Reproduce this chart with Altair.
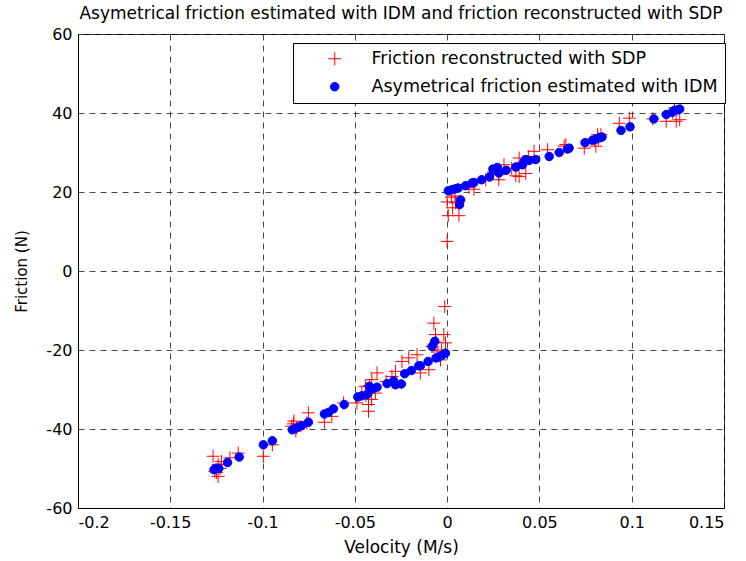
import altair as alt
import pandas as pd

S1 = "Friction reconstructed with SDP"
S2 = "Asymetrical friction estimated with IDM"

# Friction reconstructed with SDP (red crosses)
sdp_v = [-0.1268, -0.1241, -0.1259, -0.1241, -0.1223, -0.1177, -0.1132, -0.1250, -0.1230,
         -0.0996, -0.0947, -0.0833, -0.0815, -0.0842, -0.0820, -0.0830, -0.0752, -0.0761,
         -0.0665, -0.0625, -0.0561, -0.0489, -0.0426, -0.0426, -0.0380, -0.0408, -0.0443,
         -0.0462, -0.0389, -0.0440, -0.0410, -0.0420, -0.0330, -0.0280, -0.0299, -0.0245,
         -0.0208, -0.0163, -0.0145, -0.0099, -0.0082, -0.0072, -0.0063, -0.0060, -0.0050,
         -0.0036, -0.0030, -0.0018, -0.0009, -0.0013,
         0.0000, 0.0000, 0.0006, 0.0023, 0.0030, 0.0042, 0.0046, 0.0064, 0.0118, 0.0145,
         0.0209, 0.0250, 0.0280, 0.0280, 0.0308, 0.0350, 0.0372, 0.0390, 0.0390, 0.0410,
         0.0426, 0.0440, 0.0471, 0.0544, 0.0634, 0.0643, 0.0743, 0.0800, 0.0806, 0.0815,
         0.0820, 0.0833, 0.0933, 0.0987, 0.1114, 0.1187, 0.1220, 0.1232, 0.1241, 0.1260]
sdp_f = [-46.9, -49.0, -50.7, -52.0, -48.2, -47.3, -46.1, -51.0, -50.0,
         -46.9, -44.0, -38.7, -39.7, -39.3, -40.5, -38.0, -35.9, -38.5,
         -38.3, -36.8, -33.4, -33.4, -35.5, -33.8, -25.8, -27.5, -29.2,
         -30.9, -30.9, -31.5, -32.5, -29.0, -28.0, -25.4, -26.7, -22.9,
         -22.0, -21.2, -25.8, -25.0, -19.1, -13.2, -16.1, -18.0, -20.5,
         -22.5, -20.0, -16.1, -18.2, -9.0,
         7.5, 17.5, 14.0, 18.7, 16.0, 19.0, 17.3, 14.0, 21.2, 20.7,
         23.1, 25.0, 23.1, 24.4, 26.9, 26.0, 24.1, 23.9, 28.6, 27.5,
         24.7, 29.0, 30.3, 30.7, 31.6, 32.0, 31.1, 33.0, 31.6, 34.5,
         33.5, 34.5, 37.4, 38.7, 38.5, 37.9, 40.0, 41.3, 37.9, 38.3]

# Asymetrical friction estimated with IDM (blue dots)
idm_v = [-0.1263, -0.1250, -0.1237, -0.1190, -0.1127, -0.0996, -0.0947, -0.0839, -0.0824,
         -0.0806, -0.0788, -0.0752, -0.0665, -0.0643, -0.0616, -0.0558, -0.0484, -0.0462,
         -0.0435, -0.0422, -0.0408, -0.0380, -0.0326, -0.0290, -0.0280, -0.0248, -0.0230,
         -0.0194, -0.0154, -0.0145, -0.0103, -0.0082, -0.0067, -0.0060, -0.0045, -0.0027,
         -0.0009,
         0.0006, 0.0027, 0.0045, 0.0060, 0.0073, 0.0067, 0.0100, 0.0136, 0.0145, 0.0187,
         0.0230, 0.0248, 0.0272, 0.0280, 0.0320, 0.0372, 0.0408, 0.0417, 0.0426, 0.0444,
         0.0480, 0.0553, 0.0607, 0.0652, 0.0661, 0.0747, 0.0788, 0.0806, 0.0824, 0.0839,
         0.0942, 0.0991, 0.1120, 0.1187, 0.1220, 0.1232, 0.1250, 0.1260]
idm_f = [-50.3, -49.9, -50.0, -48.5, -47.1, -44.0, -43.0, -40.2, -39.9,
         -39.5, -39.1, -38.3, -36.2, -35.8, -34.9, -33.8, -31.9, -31.6,
         -31.3, -29.2, -30.0, -29.4, -28.5, -27.8, -28.8, -28.6, -26.0,
         -25.2, -24.0, -24.0, -22.9, -19.1, -17.8, -22.0, -21.8, -21.3,
         -20.8,
         20.3, 20.6, 20.8, 21.0, 18.0, 16.8, 21.6, 22.3, 22.4, 23.1,
         23.8, 25.8, 26.2, 24.8, 25.5, 26.3, 26.9, 27.7, 28.2, 28.0,
         28.2, 29.0, 30.0, 30.9, 31.1, 32.5, 33.1, 33.4, 33.7, 33.9,
         35.6, 36.5, 38.5, 39.6, 40.2, 40.7, 40.8, 41.0]

x_ticks = [-0.2, -0.15, -0.1, -0.05, 0, 0.05, 0.1, 0.15]
y_ticks = [-60, -40, -20, 0, 20, 40, 60]

df = pd.concat([
    pd.DataFrame({"v": sdp_v, "f": sdp_f, "series": S1}),
    pd.DataFrame({"v": idm_v, "f": idm_f, "series": S2}),
], ignore_index=True)

FONT = "DejaVu Sans"
cross = "M-1,0L1,0M0,-1L0,1"
dom = [S1, S2]
leg = alt.Legend(title=None, orient="none", legendX=215, legendY=9,
                 strokeColor="black", fillColor="white", padding=7,
                 labelFont=FONT, labelFontSize=17.5, labelColor="black",
                 labelOffset=28, symbolOffset=26, rowPadding=9,
                 symbolStrokeWidth=1, labelLimit=600)

chart = alt.Chart(df).mark_point(filled=False, strokeWidth=1, opacity=1).encode(
    x=alt.X("v:Q", scale=alt.Scale(domain=[-0.2, 0.15], nice=False, zero=False),
            axis=alt.Axis(values=x_ticks, title="Velocity (M/s)", labelExpr="datum.value + ''")),
    y=alt.Y("f:Q", scale=alt.Scale(domain=[-60, 60], nice=False, zero=False),
            axis=alt.Axis(values=y_ticks, title="Friction (N)", labelExpr="datum.value + ''")),
    shape=alt.Shape("series:N", scale=alt.Scale(domain=dom, range=[cross, "circle"]), legend=leg),
    fill=alt.Fill("series:N", scale=alt.Scale(domain=dom, range=["transparent", "#0000ff"]), legend=leg),
    stroke=alt.Stroke("series:N", scale=alt.Scale(domain=dom, range=["#ff0000", "#0000ff"]), legend=leg),
    size=alt.Size("series:N", scale=alt.Scale(domain=dom, range=[170, 72]), legend=leg),
).properties(
    width=646, height=474,
    title=alt.TitleParams("Asymetrical friction estimated with IDM and friction reconstructed with SDP",
                          font=FONT, fontSize=17, fontWeight="normal", color="black", offset=3),
    autosize=alt.AutoSizeParams(type="none"),
    padding={"left": 78, "top": 34, "right": 22, "bottom": 53},
).configure_view(
    stroke="black", strokeWidth=1
).configure_axis(
    labelFont=FONT, labelFontSize=16, labelColor="black",
    titleFont=FONT, titleFontWeight="normal", titleColor="black",
    domainColor="black", domainWidth=1, ticks=False,
    grid=True, gridColor="#333333", gridDash=[6, 5], gridOpacity=0.9, gridWidth=1,
).configure_axisX(titleFontSize=17, titlePadding=9, labelPadding=6
).configure_axisY(titleFontSize=15, titlePadding=16, labelPadding=6)

chart.save("out.html", embed_options={"renderer": "svg", "actions": False})
